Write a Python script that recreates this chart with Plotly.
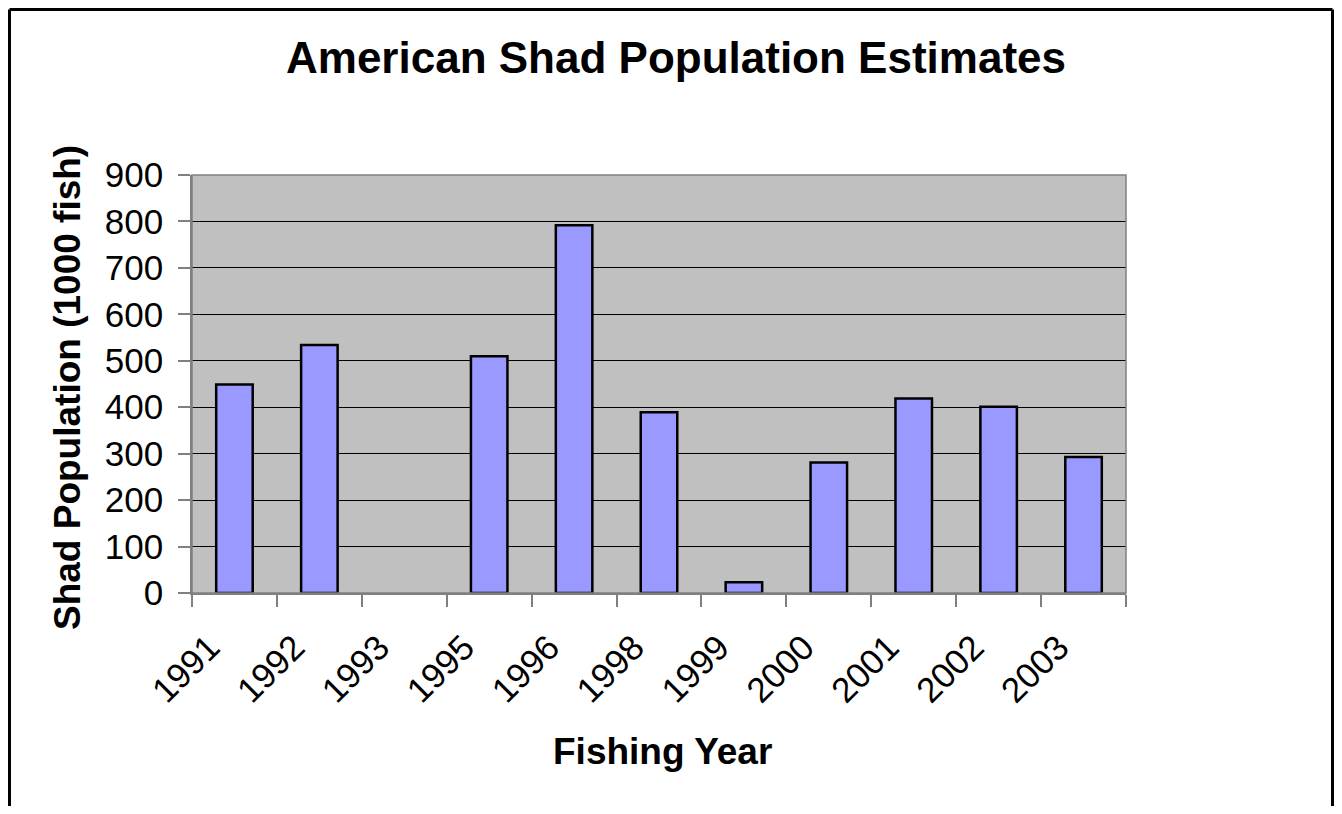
import plotly.graph_objects as go

years = ["1991", "1992", "1993", "1995", "1996", "1998", "1999", "2000", "2001", "2002", "2003"]
population = [449, 534, None, 510, 792, 389, 23, 281, 419, 401, 293]
y_ticks = [0, 100, 200, 300, 400, 500, 600, 700, 800, 900]

# page body has an 8px margin, so the figure is drawn smaller and offset
OFF = 8
W, H = 1342 - 2 * OFF, 814 - 2 * OFF
X0, X1, Y0, Y1 = 192, 1126, 175, 593  # plot area in page pixels
L, T = X0 - OFF, Y0 - OFF
R, B = W - (X1 - OFF), H - (Y1 - OFF)
pw, ph = X1 - X0, Y1 - Y0


def px_x(p):
    return (p - X0) / pw


def px_y(p):
    return (Y1 - p) / ph


font = "Liberation Sans, Arial, sans-serif"

fig = go.Figure(go.Bar(
    x=years, y=population,
    marker=dict(color="#9999FF", line=dict(color="black", width=2.5)),
    width=0.43,
))

fig.update_layout(
    width=W, height=H,
    margin=dict(l=L, r=R, t=T, b=B, autoexpand=False),
    paper_bgcolor="white",
    plot_bgcolor="#C0C0C0",
    showlegend=False,
    font=dict(family=font, color="black", size=35),
)
fig.update_xaxes(
    type="category", tickson="boundaries", ticks="outside", ticklen=12,
    tickcolor="#808080", tickwidth=1.5, tickangle=-45,
    ticklabelshift=-25, ticklabelstandoff=18,
    showline=True, linecolor="#808080", linewidth=1.5, mirror=False,
    showgrid=False, tickfont=dict(size=35, family=font),
)
fig.update_yaxes(
    range=[0, 900], tickvals=y_ticks, ticks="outside", ticklen=12,
    tickcolor="#808080", tickwidth=1.5, ticklabelstandoff=8,
    showline=True, linecolor="#808080", linewidth=1.5,
    showgrid=True, gridcolor="black", gridwidth=1, zeroline=False,
    tickfont=dict(size=35, family=font),
)

# plot-area border
fig.add_shape(type="rect", xref="paper", yref="paper", x0=0, x1=1, y0=0, y1=1,
              line=dict(color="#808080", width=1.5), layer="above")
# outer chart border (left, top, right edges)
border = dict(color="black", width=3)
right_edge = OFF + W - 1.5
fig.add_shape(type="line", xref="paper", yref="paper",
              x0=px_x(9.5), x1=px_x(9.5), y0=px_y(9.5), y1=px_y(820), line=border)
fig.add_shape(type="line", xref="paper", yref="paper",
              x0=px_x(9.5), x1=px_x(right_edge), y0=px_y(9.5), y1=px_y(9.5), line=border)
fig.add_shape(type="line", xref="paper", yref="paper",
              x0=px_x(right_edge), x1=px_x(right_edge), y0=px_y(9.5), y1=px_y(820), line=border)

fig.add_annotation(text="<b>American Shad Population Estimates</b>", xref="paper", yref="paper",
                   x=px_x(676), y=px_y(57.5), showarrow=False, font=dict(size=44, family=font),
                   xanchor="center", yanchor="middle")
fig.add_annotation(text="<b>Fishing Year</b>", xref="paper", yref="paper",
                   x=px_x(662), y=px_y(751), showarrow=False, font=dict(size=37, family=font),
                   xanchor="center", yanchor="middle")
fig.add_annotation(text="<b>Shad Population (1000 fish)</b>", xref="paper", yref="paper",
                   x=px_x(67.5), y=px_y(387.5), showarrow=False, font=dict(size=37, family=font),
                   textangle=-90, xanchor="center", yanchor="middle")

fig.write_html("out.html")
